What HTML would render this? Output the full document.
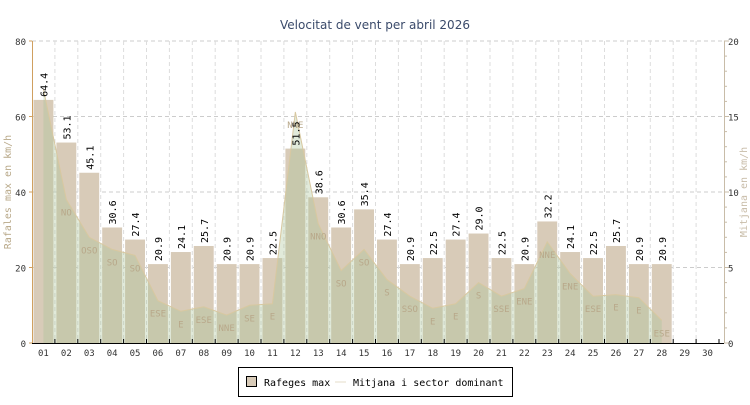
<!DOCTYPE html>
<html><head><meta charset="utf-8"><style>
body{margin:0;background:#fff;width:750px;height:400px;overflow:hidden}
svg text{font-family:"DejaVu Sans Mono","Liberation Mono",monospace}
</style></head><body>
<svg id="c" width="750" height="400" xmlns="http://www.w3.org/2000/svg">
<text x="375" y="29" text-anchor="middle" font-size="12" fill="#3a4a6a" style="font-family:'DejaVu Sans',sans-serif">Velocitat de vent per abril 2026</text>
<g id="grid"></g><g id="bars"></g><g id="area"></g><g id="dirs"></g><g id="vals"></g><g id="axes"></g>
<text transform="translate(11,192) rotate(-90)" text-anchor="middle" font-size="10" fill="#b8a888">Rafales max en km/h</text>
<text transform="translate(747,192) rotate(-90)" text-anchor="middle" font-size="10" fill="#c8bca8">Mitjana en km/h</text>
<g>
<rect x="238.5" y="367.5" width="274" height="29" fill="#fff" stroke="#000"/>
<rect x="246.5" y="376.5" width="10" height="10" fill="#d8cbb8" stroke="#000"/>
<text x="264" y="386" font-size="10" fill="#000">Rafeges max</text>
<line x1="335" y1="382" x2="346" y2="382" stroke="#e6dcc8"/>
<text x="353" y="386" font-size="10" fill="#000">Mitjana i sector dominant</text>
</g>
</svg>
<script>
const days=["01","02","03","04","05","06","07","08","09","10","11","12","13","14","15","16","17","18","19","20","21","22","23","24","25","26","27","28","29","30"];
const gusts=[64.4,53.1,45.1,30.6,27.4,20.9,24.1,25.7,20.9,20.9,22.5,51.5,38.6,30.6,35.4,27.4,20.9,22.5,27.4,29.0,22.5,20.9,32.2,24.1,22.5,25.7,20.9,20.9,null,null];
const mean=[16.8,9.5,7.0,6.2,5.8,2.8,2.1,2.4,1.85,2.5,2.6,15.3,7.9,4.8,6.2,4.2,3.1,2.3,2.6,4.0,3.1,3.6,6.7,4.6,3.1,3.2,3.0,1.5,null,null];
const dirs=["","NO","OSO","SO","SO","ESE","E","ESE","NNE","SE","E","NNE","NNO","SO","SO","S","SSO","E","E","S","SSE","ENE","NNE","ENE","ESE","E","E","ESE","",""];
const leftTicks=[0,20,40,60,80];
const rightTicks=[0,5,10,15,20];
const NS="http://www.w3.org/2000/svg";
const X0=32,X1=719,XA=724,Y0=343,Y1=41,n=days.length,sw=(X1-X0)/n;
const yL=v=>Y0-(v/80)*(Y0-Y1), yR=v=>Y0-(v/20)*(Y0-Y1), xc=i=>X0+sw*(i+0.5);
function mk(t,a,p){const e=document.createElementNS(NS,t);for(const k in a)e.setAttribute(k,a[k]);p.appendChild(e);return e;}
const G=id=>document.getElementById(id);
leftTicks.forEach(t=>{if(t>0){const l=mk('line',{x1:X0,x2:XA,y1:yL(t),y2:yL(t),stroke:'#ccc','stroke-dasharray':'4,3'},G('grid'));

}});
for(let i=1;i<n;i++){const l=mk('line',{x1:X0+sw*i,x2:X0+sw*i,y1:Y1,y2:Y0,stroke:'#ddd','stroke-dasharray':'4,3'},G('grid'));

}
gusts.forEach((v,i)=>{if(v==null)return;const x=X0+sw*i+1.5,w=sw-3;
const r=mk('rect',{x:x,y:yL(v),width:w,height:Y0-yL(v),fill:'#d8cbb8'},G('bars'));


const t=mk('text',{transform:`translate(${xc(i)+4},${yL(v)-3}) rotate(-90)`,'font-size':'10',fill:'#000'},G('vals'));
t.textContent=v.toFixed(1);

});
let pts=[];mean.forEach((v,i)=>{if(v!=null)pts.push([xc(i),yR(v)]);});
let d=`M${pts[0][0]},${Y0} `+pts.map(p=>`L${p[0]},${p[1]}`).join(' ')+` L${pts[pts.length-1][0]},${Y0} Z`;
const a=mk('path',{d:d,fill:'rgba(170,195,150,0.35)',stroke:'none'},G('area'));


const ln=mk('path',{d:'M'+pts.map(p=>p.join(',')).join(' L'),fill:'none',stroke:'#d8c8a0','stroke-width':'1'},G('area'));


dirs.forEach((s,i)=>{if(!s||mean[i]==null)return;const t=mk('text',{x:xc(i),y:yR(mean[i])+16,'text-anchor':'middle','font-size':'9',fill:'#b8a88a'},G('dirs'));
t.textContent=s;

});
const ax=G('axes');
mk('line',{x1:X0+0.5,x2:X0+0.5,y1:Y1,y2:Y0,stroke:'#d0a060'},ax);
mk('line',{x1:X0,x2:XA,y1:Y0+0.5,y2:Y0+0.5,stroke:'#000'},ax);
mk('line',{x1:XA+0.5,x2:XA+0.5,y1:Y1,y2:Y0,stroke:'#c8bca8'},ax);
leftTicks.forEach(t=>{mk('line',{x1:X0-3,x2:X0,y1:yL(t),y2:yL(t),stroke:'#d0a060'},ax);
const e=mk('text',{x:X0-6,y:yL(t)+4,'text-anchor':'end','font-size':'9',fill:'#333'},ax);e.textContent=t;

});
for(let v=0;v<=20;v++){mk('line',{x1:XA,x2:XA+(v%5?3:5),y1:yR(v),y2:yR(v),stroke:'#c8bca8'},ax);}
rightTicks.forEach(t=>{const e=mk('text',{x:XA+4,y:yR(t)+4,'font-size':'9',fill:'#333'},ax);e.textContent=t;

});
days.forEach((dd,i)=>{mk('line',{x1:X0+sw*(i+1),x2:X0+sw*(i+1),y1:Y0-4,y2:Y0,stroke:'#000'},ax);
const e=mk('text',{x:xc(i),y:Y0+13,'text-anchor':'middle','font-size':'9',fill:'#333'},ax);e.textContent=dd;

});
</script>
</body></html>
